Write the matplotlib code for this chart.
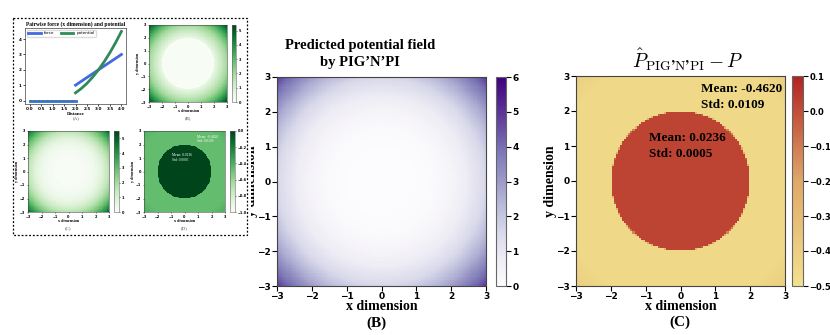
import matplotlib
matplotlib.use("Agg")
import matplotlib.pyplot as plt
import numpy as np
from matplotlib.colors import LinearSegmentedColormap
from matplotlib.patches import Rectangle

plt.rcParams["mathtext.fontset"] = "cm"
plt.rcParams["font.weight"] = "bold"
plt.rcParams["axes.labelweight"] = "bold"
plt.rcParams["axes.titleweight"] = "bold"

W, H = 830, 335
SERIF = "Liberation Serif"

# (A) pairwise force / potential
dist_lo = [0.0, 2.0]
force_lo = [0.0, 0.0]
dist_hi = [2.0, 2.25, 2.5, 2.75, 3.0, 3.25, 3.5, 3.75, 4.0]
force_hi = [1.0, 1.25, 1.5, 1.75, 2.0, 2.25, 2.5, 2.75, 3.0]
potential_hi = [0.5, 0.78, 1.12, 1.53, 2.0, 2.53, 3.12, 3.78, 4.5]

# radial profiles of the fields (distance from centre -> value)
true_radius = [0.0, 2.0, 2.0, 3.0, 3.5, 4.0, 4.25]
true_value = [0.0, 0.0, 0.5, 2.0, 3.1, 4.5, 5.3]
pred_radius = [0.0, 1.0, 1.5, 2.0, 2.5, 3.0, 3.5, 4.0, 4.25]
pred_value = [0.0, 0.02, 0.1, 0.35, 0.85, 1.6, 2.7, 4.1, 5.0]
diff_radius = [0.0, 1.99, 2.01, 3.5, 4.25]
diff_value = [0.0236, 0.0236, -0.462, -0.462, -0.40]

outside_stats = "Mean: -0.4620\nStd: 0.0109"
inside_stats = "Mean: 0.0236\nStd: 0.0005"

N_GRID = 100
edges = np.linspace(-3, 3, N_GRID + 1)
centres = (edges[:-1] + edges[1:]) / 2
gx, gy = np.meshgrid(centres, centres)
gr = np.hypot(gx, gy)
true_field = np.interp(gr, true_radius, true_value)
pred_field = np.interp(gr, pred_radius, pred_value)
diff_field = np.interp(gr, diff_radius, diff_value)

ylrd = LinearSegmentedColormap.from_list(
    "ylrd", [(0.0, "#f2e18e"), (0.5, "#e0a868"), (1.0, "#b22222")]
)


def rect(x0, y0, x1, y1):
    return [x0 / W, 1 - y1 / H, (x1 - x0) / W, (y1 - y0) / H]


def style_axes(ax, size, lw=0.8, length=3):
    for s in ax.spines.values():
        s.set_color("#444444")
        s.set_linewidth(lw)
    ax.tick_params(labelsize=size, width=lw, length=length, pad=1)


def field(ax, cax, data, cmap, vmin, vmax, ticks, size, lw=0.8, length=3):
    im = ax.imshow(data, extent=(-3, 3, -3, 3), origin="lower", cmap=cmap,
                   vmin=vmin, vmax=vmax, interpolation="nearest", aspect="auto")
    ax.set_xticks(range(-3, 4))
    ax.set_yticks(range(-3, 4))
    cb = fig.colorbar(im, cax=cax, ticks=ticks)
    cb.outline.set_edgecolor("#666666")
    cb.outline.set_linewidth(lw)
    cax.tick_params(labelsize=size, width=lw, length=length, pad=1)
    style_axes(ax, size, lw, length)
    return im


def labels(ax, size, pad):
    ax.set_xlabel("x dimension", family=SERIF, weight="bold", fontsize=size, labelpad=pad)
    ax.set_ylabel("y dimension", family=SERIF, weight="bold", fontsize=size, labelpad=pad)


fig = plt.figure(figsize=(W / 100, H / 100), dpi=100)

# ---- big panel (B)
axB = fig.add_axes(rect(277, 77, 486, 286))
caxB = fig.add_axes(rect(496, 77, 506, 286))
field(axB, caxB, pred_field, "Purples", 0, 6, range(0, 7), 6.5, length=3.5)
labels(axB, 10, -1)
fig.text(360 / W, 1 - 54 / H, "Predicted potential field\nby PIG\u2019N\u2019PI", family=SERIF,
         weight="bold", fontsize=10.5, ha="center", va="center", linespacing=1.45)
fig.text(376 / W, 1 - 323 / H, "(B)", family=SERIF, weight="bold", fontsize=11,
         ha="center", va="center")

# ---- big panel (C)
axC = fig.add_axes(rect(576, 76, 785, 286))
caxC = fig.add_axes(rect(792, 76, 803, 286))
field(axC, caxC, diff_field, ylrd, -0.5, 0.1, np.arange(-0.5, 0.15, 0.1), 6, length=3.5)
axC.tick_params(labelsize=6.5)
labels(axC, 10, -1)
axC.text(0.6, 2.0, outside_stats, family=SERIF, weight="bold", fontsize=9.5,
         va="bottom", linespacing=1.4)
axC.text(-0.9, 0.6, inside_stats, family=SERIF, weight="bold", fontsize=9.5,
         va="bottom", linespacing=1.4)
fig.text(688 / W, 1 - 60 / H, "$\\hat{P}_{\\mathrm{PIG\u2019N\u2019PI}} - P$", fontsize=14,
         ha="center", va="center")
fig.text(680 / W, 1 - 322 / H, "(C)", family=SERIF, weight="bold", fontsize=11,
         ha="center", va="center")

# ---- left inset box (covers part of the ylabel of B)
box = fig.add_axes([0, 0, 251 / W, 1], zorder=5)
box.set_xlim(0, 251)
box.set_ylim(H, 0)
box.set_xticks([])
box.set_yticks([])
for s in box.spines.values():
    s.set_visible(False)
box.add_patch(Rectangle((13, 18), 234, 217, fill=False, ec="black", lw=0.9,
                        ls=(0, (1.5, 1.5))))
for x, y, lab in [(76, 118, "(A)"), (188, 118, "(B)"), (68, 228, "(C)"), (184, 228, "(D)")]:
    box.text(x, y, lab, family=SERIF, fontsize=3.5, weight="normal",
             ha="center", va="center", color="#444444")

TINY = 3

# (A)
axA = fig.add_axes(rect(25, 28, 126, 104), zorder=6)
axA.plot(dist_lo, force_lo, color="royalblue", lw=2, label="force")
axA.plot(dist_hi, force_hi, color="royalblue", lw=2)
axA.plot(dist_lo, force_lo, color="seagreen", lw=1.2, ls=(0, (1, 1.5)))
axA.plot(dist_hi, potential_hi, color="seagreen", lw=2, label="potential")
axA.set_xticks(np.arange(0, 4.01, 0.5))
axA.set_yticks(range(0, 5))
style_axes(axA, TINY, lw=0.5, length=1.5)
axA.set_xlabel("Distance", family=SERIF, weight="bold", fontsize=3.5, labelpad=0.5)
axA.set_title("Pairwise force (x dimension) and potential", family=SERIF, weight="bold",
              fontsize=4, pad=1.5)
axA.legend(loc="upper left", ncol=2, prop={"size": 3, "weight": "normal"}, frameon=True,
           handlelength=3, borderpad=0.3, columnspacing=1.5, framealpha=1,
           edgecolor="#dddddd")

# (B) inset: true potential
axBi = fig.add_axes(rect(149, 25, 227, 102), zorder=6)
caxBi = fig.add_axes(rect(232, 25, 236, 102), zorder=6)
field(axBi, caxBi, true_field, "Greens", 0, 5.4, range(0, 6), 2.5, lw=0.4, length=1)
labels(axBi, 3, 0.5)

# (C) inset: predicted potential
axCi = fig.add_axes(rect(28, 131, 109, 212), zorder=6)
caxCi = fig.add_axes(rect(114, 131, 119, 212), zorder=6)
field(axCi, caxCi, pred_field, "Greens", 0, 5.5, range(0, 6), 2.5, lw=0.4, length=1)
labels(axCi, 3, 0.5)

# (D) inset: difference
axDi = fig.add_axes(rect(144, 131, 225, 212), zorder=6)
caxDi = fig.add_axes(rect(230, 131, 235, 212), zorder=6)
field(axDi, caxDi, diff_field, "Greens", -1.0, 0.0, np.arange(-1.0, 0.01, 0.2), 2.5,
      lw=0.4, length=1)
labels(axDi, 3, 0.5)
axDi.text(0.9, 2.1, outside_stats, family=SERIF, fontsize=2.6, weight="normal",
          color="white", va="bottom")
axDi.text(-0.9, 0.7, inside_stats, family=SERIF, fontsize=2.6, weight="normal",
          color="white", va="bottom")

fig.savefig("out.png", dpi=100, facecolor="white")
